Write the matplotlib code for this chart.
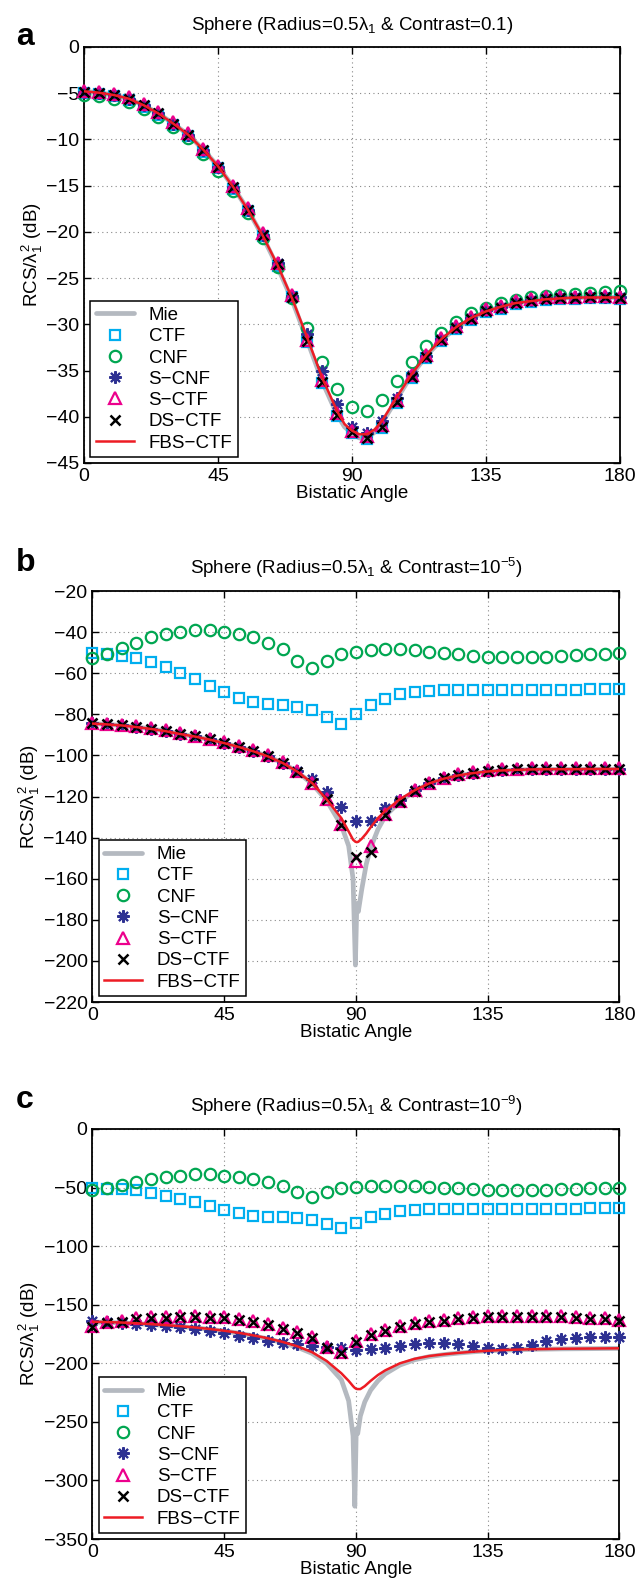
import numpy as np
import matplotlib

matplotlib.use("Agg")
import matplotlib.pyplot as plt

plt.rcParams["font.family"] = ["Liberation Sans", "DejaVu Sans"]
plt.rcParams["mathtext.fontset"] = "custom"
plt.rcParams["mathtext.rm"] = "Liberation Sans"
plt.rcParams["mathtext.it"] = "Liberation Sans"
plt.rcParams["mathtext.bf"] = "Liberation Sans:bold"

# marker angles (every 5 deg)
ang = np.arange(0, 181, 5)

# ---------------- panel a (contrast 0.1) ----------------
a_ds = [-4.85, -4.96, -5.2, -5.6, -6.3, -7.2, -8.3, -9.5, -11.2, -13.0, -15.2, -17.6, -20.3,
        -23.5, -27.0, -31.8, -36.2, -39.8, -41.7, -42.3, -41.1, -38.4, -35.7, -33.5, -31.7,
        -30.4, -29.4, -28.6, -28.2, -27.7, -27.5, -27.3, -27.2, -27.2, -27.1, -27.1, -27.2]
a_sctf = [-4.75, -4.85, -5.1, -5.45, -6.15, -7.05, -8.15, -9.35, -11.05, -12.85, -15.05, -17.45, -20.15,
          -23.35, -26.85, -31.65, -36.0, -39.6, -41.5, -42.1, -40.9, -38.2, -35.5, -33.3, -31.5,
          -30.2, -29.2, -28.4, -28.0, -27.5, -27.3, -27.1, -27.0, -27.0, -26.9, -26.9, -27.0]
a_scnf = [-4.85, -4.96, -5.2, -5.6, -6.3, -7.2, -8.3, -9.5, -11.2, -13.0, -15.2, -17.6, -20.3,
          -23.4, -26.9, -31.0, -35.0, -38.6, -41.1, -41.8, -40.5, -38.0, -35.5, -33.4, -31.6,
          -30.3, -29.3, -28.5, -28.1, -27.6, -27.4, -27.2, -27.1, -27.1, -27.0, -27.0, -27.1]
a_cnf = [-5.2, -5.3, -5.6, -6.0, -6.7, -7.6, -8.7, -9.9, -11.6, -13.4, -15.6, -18.0, -20.7,
         -23.8, -27.2, -30.4, -34.1, -37.0, -38.9, -39.4, -38.2, -36.1, -34.1, -32.4, -30.9,
         -29.7, -28.8, -28.2, -27.7, -27.4, -27.1, -26.9, -26.8, -26.7, -26.6, -26.55, -26.4]
a_ctf = [-5.0, -5.1, -5.35, -5.75, -6.45, -7.35, -8.45, -9.65, -11.35, -13.15, -15.35, -17.75, -20.45,
         -23.65, -27.1, -31.9, -36.3, -39.9, -41.8, -42.4, -41.2, -38.5, -35.8, -33.6, -31.8,
         -30.5, -29.5, -28.7, -28.3, -27.8, -27.6, -27.4, -27.3, -27.3, -27.2, -27.2, -27.3]
a_line_ang = [0, 5, 10, 15, 20, 25, 30, 35, 40, 45, 50, 55, 60, 65, 70, 75, 80, 85, 87.5, 90,
              92.5, 95, 97.5, 100, 105, 110, 115, 120, 125, 130, 135, 140, 145, 150, 155, 160,
              165, 170, 175, 180]
a_mie = [-4.8, -4.95, -5.2, -5.6, -6.3, -7.2, -8.3, -9.5, -11.1, -12.9, -15.1, -17.6, -20.5,
         -23.8, -27.5, -31.8, -36.2, -39.8, -41.1, -41.8, -42.3, -42.3, -41.7, -40.7, -38.1,
         -35.5, -33.4, -31.7, -30.4, -29.4, -28.6, -28.1, -27.7, -27.5, -27.3, -27.2, -27.1,
         -27.1, -27.1, -27.1]
a_fbs = [-4.8, -4.95, -5.2, -5.6, -6.3, -7.2, -8.3, -9.5, -11.1, -12.9, -15.1, -17.6, -20.4,
         -23.6, -27.3, -31.5, -35.8, -39.4, -40.8, -41.5, -41.9, -41.9, -41.4, -40.5, -37.9,
         -35.4, -33.3, -31.6, -30.3, -29.3, -28.6, -28.1, -27.7, -27.5, -27.3, -27.2, -27.1,
         -27.1, -27.1, -27.1]

# ---------------- panel b (contrast 1e-5) ----------------
b_cnf = [-52.4, -50.7, -47.9, -45.1, -42.5, -40.9, -39.8, -38.8, -38.8, -39.8, -40.9, -42.5, -45.1,
         -48.4, -53.9, -57.3, -54.1, -50.8, -49.7, -48.7, -48.4, -48.4, -48.7, -49.7, -50.3,
         -50.8, -51.5, -52.0, -52.0, -52.3, -52.3, -52.0, -51.6, -51.1, -50.7, -50.5, -50.3]
b_ctf = [-50.0, -50.8, -51.6, -52.4, -54.4, -56.8, -59.7, -62.7, -66.1, -69.3, -71.9, -73.9, -75.0,
         -75.5, -76.3, -77.9, -81.5, -84.9, -80.0, -75.5, -72.6, -70.3, -69.3, -68.7, -68.3,
         -68.3, -68.3, -68.3, -68.3, -68.3, -68.3, -68.3, -68.2, -68.0, -67.8, -67.7, -67.5]
b_ds = [-84.3, -84.8, -85.3, -86.1, -87.0, -88.1, -89.6, -90.6, -92.2, -93.8, -95.7, -97.7, -100.3,
        -103.5, -107.9, -113.6, -121.4, -133.9, -149.3, -146.8, -129.0, -122.5, -117.2, -113.6,
        -111.2, -109.5, -108.4, -107.6, -107.1, -106.8, -106.6, -106.5, -106.5, -106.5, -106.5,
        -106.5, -106.5]
b_sctf = [-84.0, -84.5, -85.0, -85.8, -86.7, -87.8, -89.3, -90.3, -91.9, -93.5, -95.4, -97.4, -100.0,
          -103.2, -107.6, -113.3, -121.1, -133.5, -151.4, -144.1, -128.7, -122.2, -116.9, -113.3,
          -110.9, -109.2, -108.1, -107.3, -106.8, -106.5, -106.3, -106.2, -106.2, -106.2, -106.2,
          -106.2, -106.2]
b_scnf = [-84.3, -84.8, -85.3, -86.1, -87.0, -88.1, -89.6, -90.6, -92.2, -93.8, -95.7, -97.7, -100.3,
          -103.5, -107.6, -111.6, -117.6, -125.0, -131.8, -131.8, -125.7, -121.8, -117.0, -113.6,
          -111.2, -109.5, -108.4, -107.6, -107.1, -106.8, -106.6, -106.5, -106.5, -106.5, -106.5,
          -106.5, -106.5]
b_line_ang = [0, 5, 10, 15, 20, 25, 30, 35, 40, 45, 50, 55, 60, 65, 70, 75, 80, 85, 87.5, 89,
              89.8, 90.3, 90.8, 92, 93.5, 95, 97.5, 100, 105, 110, 115, 120, 125, 130, 135, 140,
              145, 150, 155, 160, 165, 170, 175, 180]
b_mie = [-84.5, -84.9, -85.4, -86.2, -87.1, -88.2, -89.6, -90.8, -92.3, -94.0, -95.9, -98.0, -100.5,
         -103.7, -108.0, -113.8, -122.0, -134.0, -144.0, -160.0, -202.0, -172.0, -176.0, -165.0,
         -153.0, -145.0, -136.0, -129.5, -122.5, -117.3, -113.8, -111.4, -109.8, -108.7, -107.9,
         -107.4, -107.1, -106.9, -106.8, -106.8, -106.8, -106.7, -106.7, -106.7]
b_fbs = [-84.5, -84.9, -85.4, -86.2, -87.1, -88.2, -89.6, -90.8, -92.3, -94.0, -95.9, -98.0, -100.5,
         -103.7, -107.9, -113.4, -121.4, -130.5, -137.0, -141.0, -142.0, -142.2, -142.0, -140.5,
         -138.0, -135.0, -130.5, -127.0, -121.3, -117.0, -113.6, -111.3, -109.7, -108.6, -107.8,
         -107.3, -107.0, -106.8, -106.7, -106.7, -106.7, -106.6, -106.6, -106.6]

# ---------------- panel c (contrast 1e-9) ----------------
c_cnf = [-52.1, -50.5, -47.8, -45.0, -42.4, -40.8, -39.7, -38.7, -38.7, -39.7, -40.8, -42.4, -45.0,
         -48.3, -53.8, -57.8, -54.0, -50.7, -49.6, -48.6, -48.3, -48.3, -48.6, -49.6, -50.2,
         -50.7, -51.4, -51.9, -51.9, -52.2, -52.2, -51.9, -51.5, -51.0, -50.6, -50.4, -50.2]
c_ctf = [-50.0, -50.8, -51.6, -52.4, -54.4, -56.8, -59.7, -62.7, -66.1, -69.3, -71.9, -73.9, -75.0,
         -75.5, -76.3, -77.9, -81.5, -84.8, -80.0, -75.5, -72.6, -70.3, -69.3, -68.7, -68.3,
         -68.3, -68.3, -68.3, -68.3, -68.3, -68.3, -68.3, -68.2, -68.0, -67.8, -67.7, -67.5]
c_ds = [-169.3, -165.9, -164.5, -162.5, -161.6, -161.1, -160.2, -160.2, -161.1, -161.6, -163.1,
        -164.5, -167.3, -171.0, -173.9, -178.7, -186.7, -191.3, -182.0, -175.9, -172.2, -169.3,
        -166.5, -165.0, -163.6, -162.5, -161.6, -160.8, -160.2, -160.2, -160.2, -160.2, -160.8,
        -161.1, -162.2, -162.5, -163.6]
c_sctf = [-168.5, -165.1, -163.7, -161.7, -160.8, -160.3, -159.4, -159.4, -160.3, -160.8, -162.3,
          -163.7, -166.5, -170.2, -173.1, -177.9, -185.9, -190.3, -181.2, -175.1, -171.4, -168.5,
          -165.7, -164.2, -162.8, -161.7, -160.8, -160.0, -159.4, -159.4, -159.4, -159.4, -160.0,
          -160.3, -161.4, -161.7, -162.8]
c_scnf = [-163.6, -164.5, -165.3, -166.5, -167.3, -168.2, -169.3, -170.7, -172.4, -174.4, -176.7,
          -178.7, -181.0, -182.4, -183.5, -185.5, -186.4, -187.2, -188.7, -187.8, -186.7, -185.2,
          -183.8, -183.0, -183.0, -183.5, -185.2, -186.7, -187.8, -186.7, -184.4, -181.0, -179.6,
          -178.1, -177.3, -177.3, -177.3]
c_line_ang = [0, 5, 10, 15, 20, 25, 30, 35, 40, 45, 50, 55, 60, 65, 70, 75, 80, 85, 87.5, 89,
              89.6, 90.1, 90.6, 91.5, 93, 95, 97.5, 100, 105, 110, 115, 120, 125, 130, 135, 140,
              145, 150, 155, 160, 165, 170, 175, 180]
c_mie = [-164.8, -165.1, -165.5, -166.1, -166.9, -167.7, -168.6, -169.7, -171.0, -172.5, -174.3,
         -176.6, -179.2, -182.4, -186.3, -191.5, -200.0, -214.0, -232.0, -262.0, -322.0, -256.0,
         -260.0, -245.0, -233.0, -223.0, -215.0, -209.0, -201.5, -197.0, -194.3, -192.6, -191.3,
         -190.2, -189.4, -188.8, -188.4, -188.1, -187.9, -187.7, -187.6, -187.5, -187.4, -187.3]
c_fbs = [-164.5, -164.8, -165.2, -165.8, -166.6, -167.4, -168.3, -169.4, -170.7, -172.2, -174.0,
         -176.2, -178.7, -181.8, -185.5, -190.5, -198.0, -208.5, -215.0, -219.5, -221.0, -221.8,
         -222.0, -222.0, -219.5, -215.0, -210.0, -206.0, -200.0, -196.2, -193.8, -192.3, -191.1,
         -190.1, -189.3, -188.7, -188.3, -188.0, -187.8, -187.6, -187.5, -187.4, -187.3, -187.2]

titles = [
    r"Sphere (Radius=0.5$\lambda_1$ & Contrast=0.1)",
    r"Sphere (Radius=0.5$\lambda_1$ & Contrast=10$^{-5}$)",
    r"Sphere (Radius=0.5$\lambda_1$ & Contrast=10$^{-9}$)",
]
panel_letters = ["a", "b", "c"]
xticks = [0, 45, 90, 135, 180]

C_MIE = "#b4b9c0"
C_CTF = "#00aeef"
C_CNF = "#00a651"
C_SCNF = "#2e3192"
C_SCTF = "#ec008c"
C_FBS = "#ed1c24"
ASTERISK = (8, 2, 0)


def draw_panel(ax, line_ang, mie, fbs, ctf, cnf, scnf, sctf, ds, ylim, yticks, title):
    ax.plot(line_ang, mie, color=C_MIE, lw=3.4, label="Mie", zorder=2, solid_capstyle="round")
    mk = dict(linestyle="none", clip_on=False)
    ax.plot(ang, ctf, marker="s", ms=6.5, mfc="none", mec=C_CTF, mew=1.6, label="CTF", zorder=3, **mk)
    ax.plot(ang, cnf, marker="o", ms=8.2, mfc="none", mec=C_CNF, mew=1.6, label="CNF", zorder=3, **mk)
    ax.plot(ang, scnf, marker=ASTERISK, ms=9, mfc="none", mec=C_SCNF, mew=1.5, label="S\u2212CNF", zorder=4, **mk)
    ax.plot(ang, sctf, marker="^", ms=8.2, mfc="none", mec=C_SCTF, mew=1.6, label="S\u2212CTF", zorder=4, **mk)
    ax.plot(ang, ds, marker="x", ms=6.5, mec="black", mew=1.8, label="DS\u2212CTF", zorder=5, **mk)
    ax.plot(line_ang, fbs, color=C_FBS, lw=1.8, label="FBS\u2212CTF", zorder=6)

    ax.set_xlim(0, 180)
    ax.set_ylim(*ylim)
    ax.set_xticks(xticks)
    ax.set_yticks(yticks)
    ax.set_yticklabels([str(t).replace("-", "\u2212") for t in yticks])
    ax.tick_params(direction="in", top=True, right=True, length=5, width=1, labelsize=14)
    for sp in ax.spines.values():
        sp.set_linewidth(1.3)
    ax.grid(True, linestyle=(0, (1, 3)), color="#888888", lw=0.8)
    ax.set_axisbelow(True)
    ax.set_xlabel("Bistatic Angle", fontsize=13.5, labelpad=0)
    ax.set_ylabel(r"RCS/$\lambda_1^2$ (dB)", fontsize=13.5, labelpad=1)
    ax.set_title(title, fontsize=13.5, pad=12)
    leg = ax.legend(loc="lower left", bbox_to_anchor=(0.012, 0.014), borderaxespad=0,
                    fontsize=13.5, fancybox=False, framealpha=1, edgecolor="black",
                    handlelength=2.0, handletextpad=0.8, labelspacing=0.22, borderpad=0.3)
    leg.get_frame().set_linewidth(1.1)


fig = plt.figure(figsize=(6.36, 15.85), dpi=100)
ax_a = fig.add_axes([0.1321, 0.7079, 0.8428, 0.2625])
ax_b = fig.add_axes([0.1454, 0.3678, 0.8286, 0.2593])
ax_c = fig.add_axes([0.1454, 0.0290, 0.8286, 0.2587])

draw_panel(ax_a, a_line_ang, a_mie, a_fbs, a_ctf, a_cnf, a_scnf, a_sctf, a_ds,
           (-45, 0), list(range(0, -46, -5)), titles[0])
draw_panel(ax_b, b_line_ang, b_mie, b_fbs, b_ctf, b_cnf, b_scnf, b_sctf, b_ds,
           (-220, -20), list(range(-20, -221, -20)), titles[1])
draw_panel(ax_c, c_line_ang, c_mie, c_fbs, c_ctf, c_cnf, c_scnf, c_sctf, c_ds,
           (-350, 0), list(range(0, -351, -50)), titles[2])

for letter, ypx in zip(panel_letters, [37, 563, 1100]):
    fig.text(16 / 636, 1 - ypx / 1585, letter, fontsize=23, fontweight="bold", va="center", ha="left")

fig.savefig("out.png", dpi=100)
